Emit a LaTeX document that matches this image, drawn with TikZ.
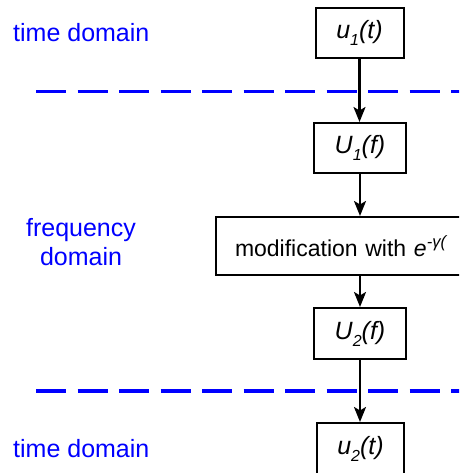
\documentclass[tikz,border=0pt]{standalone}
\usepackage{fontspec}
\setmainfont{Liberation Sans}
\usetikzlibrary{arrows.meta}
\newcommand{\lowsub}[1]{\raisebox{-0.28em}{\fontsize{16}{16}\selectfont #1}}
\newcommand{\highsup}[1]{\raisebox{0.38em}{\fontsize{16.5}{16.5}\selectfont #1}}
\begin{document}
\begin{tikzpicture}[x=1pt,y=1pt,
 box/.style={draw, line width=2pt, inner sep=0pt, font=\fontsize{25}{28}\selectfont\itshape},
 modbox/.style={draw, line width=2pt, inner ysep=0pt, inner xsep=19pt, font=\fontsize{23}{26}\selectfont},
 lbl/.style={text=blue, font=\fontsize{25}{29}\selectfont, inner sep=0pt},
 sep/.style={blue, line width=3.5pt, dash pattern=on 30pt off 11.5pt},
 arr/.style={line width=2.2pt, -{Stealth[length=15pt,width=12pt,inset=3.5pt]}}]
\useasboundingbox (0,0) rectangle (459,473);
\clip (0,0) rectangle (459,473);
% separators
\coordinate (d1s) at (36,381.3);
\coordinate (d1e) at (480,381.3);
\coordinate (d2s) at (36,82);
\coordinate (d2e) at (480,82);
\draw[sep] (d1s) -- (d1e);
\draw[sep] (d2s) -- (d2e);
% boxes
\node[box, minimum width=88pt, minimum height=50pt] (u1) at (359.5,440) {u\lowsub{1}(t)};
\node[box, minimum width=92pt, minimum height=50pt] (U1) at (360,325) {U\lowsub{1}(f)};
\node[modbox, anchor=west, text width=260pt, align=left, minimum height=58pt] (mod) at (215,227) {modification with \textit{e\highsup{-γ(}}};
\node[box, minimum width=92pt, minimum height=51pt] (U2) at (360,139.5) {U\lowsub{2}(f)};
\node[box, minimum width=87pt, minimum height=52pt] (u2) at (360.5,24) {u\lowsub{2}(t)};
% arrows
\draw[arr] (u1.south) -- (u1.south |- U1.north);
\draw[arr] (U1.south) -- (U1.south |- mod.north);
\draw[arr] (U1.south |- mod.south) -- (U1.south |- U2.north);
\draw[arr] (U2.south) -- (U2.south |- u2.north);
% labels
\node[lbl, anchor=base west] (t1) at (13,431.3) {time domain};
\node[lbl, align=center] (fd) at (81,231) {frequency\\domain};
\node[lbl, anchor=base west] (t2) at (13,15) {time domain};
\end{tikzpicture}
\end{document}
